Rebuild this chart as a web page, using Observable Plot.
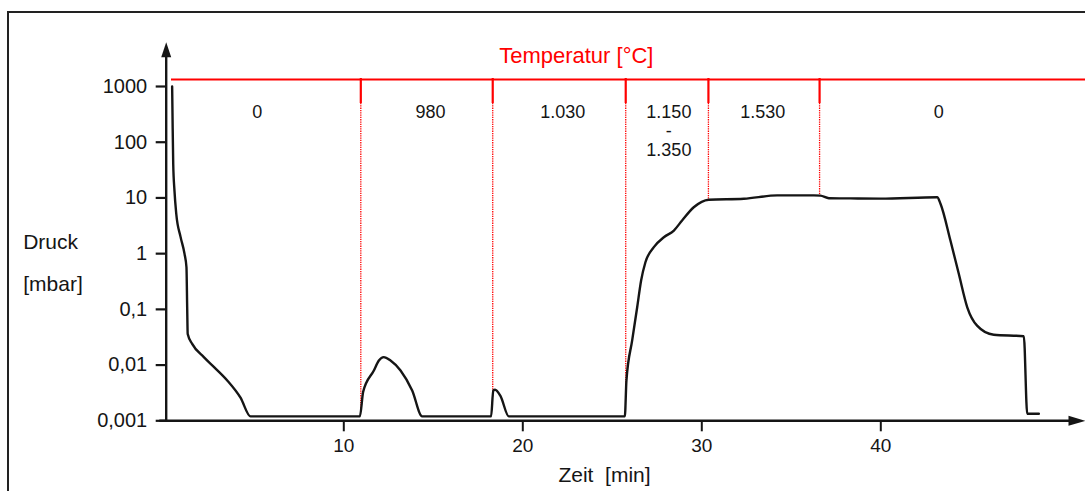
<!DOCTYPE html>
<html>
<head>
<meta charset="utf-8">
<script src="https://cdn.jsdelivr.net/npm/d3@7"></script>
<script src="https://cdn.jsdelivr.net/npm/@observablehq/plot@0.6"></script>
<style>
  html, body { margin: 0; padding: 0; background: #fff; overflow: hidden; }
  #wrap { position: relative; width: 1085px; height: 491px; }
  #frame { position: absolute; left: 7px; top: 11px; right: -4px; bottom: -4px;
           border-left: 2px solid #222; border-top: 2px solid #222; pointer-events: none; }
  svg text { white-space: pre; }
</style>
</head>
<body>
<div id="wrap"><div id="frame"></div></div>
<script>
// ---- data ----
const time = [0.41, 0.43, 0.47, 0.54, 0.64, 0.88, 1.10, 1.21, 1.25, 1.28, 1.53, 2.18, 2.74, 3.49, 4.23, 4.79,
  10.90, 11.08, 11.68, 11.96, 12.23, 12.61, 13.17, 13.82, 14.38,
  18.23, 18.35, 18.45, 18.75, 19.22,
  25.70, 25.79, 26.11, 26.39, 26.61, 26.85, 27.32, 27.88, 28.44, 28.90, 29.55, 30.39,
  32.35, 34.21, 36.26, 36.63, 37.10, 38.30, 39.98, 43.15,
  43.34, 43.89, 44.36, 44.83, 45.38, 46.31, 47.99, 48.18, 48.83];
const pressure = [1000, 320, 41, 13.5, 5.2, 2.0, 1.0, 0.57, 0.11, 0.036, 0.024, 0.0139, 0.0093, 0.0053, 0.0026, 0.0012,
  0.0012, 0.0033, 0.008, 0.0121, 0.0139, 0.0121, 0.008, 0.0035, 0.0012,
  0.0012, 0.0035, 0.0036, 0.0028, 0.0012,
  0.0012, 0.0053, 0.0277, 0.109, 0.33, 0.70, 1.31, 1.97, 2.6, 3.94, 6.8, 9.3,
  9.66, 11.1, 11.1, 11.0, 9.9, 9.8, 9.7, 10.3,
  7.8, 1.72, 0.43, 0.109, 0.051, 0.035, 0.033, 0.00134, 0.00134];

const tempBoundaries = [10.95, 18.32, 25.75, 30.37, 36.58];   // min
const tempLabels = ["0", "980", "1.030", "1.150\n-\n1.350", "1.530", "0"];
const tempLabelX = [5.16, 14.84, 22.23, 28.16, 33.40, 43.24];  // min

const xTicks = [10, 20, 30, 40];
const yTicks = [1000, 100, 10, 1, 0.1, 0.01, 0.001];
const yTickLabels = ["1000", "100", "10", "1", "0,1", "0,01", "0,001"];

// ---- layout ----
const W = 1085, H = 491;
const mL = 164.3, mR = 0, mT = 86, mB = 70.7;
const xDomain = [0, (W - mL) / 17.9];
const yDomain = [0.001, 1000];
const xs = Plot.scale({x: {domain: xDomain, range: [mL, W - mR]}});
const ys = Plot.scale({y: {type: "log", domain: yDomain, range: [H - mB, mT]}});
const X = px => xs.invert(px), Y = py => ys.invert(py);

const fmt = new Map(yTicks.map((t, i) => [t, yTickLabels[i]]));
const rows = time.map((t, i) => ({t, p: pressure[i]}));
function pAt(t) {
  for (let i = 0; i < time.length - 1; i++) {
    if (time[i] <= t && t <= time[i + 1]) {
      const f = (t - time[i]) / (time[i + 1] - time[i]);
      return Math.pow(10, Math.log10(pressure[i]) * (1 - f) + Math.log10(pressure[i + 1]) * f);
    }
  }
  return pressure[pressure.length - 1];
}

const upArrow = {draw(c) { c.moveTo(0, -15); c.lineTo(5, 0); c.lineTo(-5, 0); c.closePath(); }};
const rightArrow = {draw(c) { c.moveTo(17, 0); c.lineTo(0, -5); c.lineTo(0, 5); c.closePath(); }};
const ink = "#151515";

const chart = Plot.plot({
  width: W, height: H,
  marginLeft: mL, marginRight: mR, marginTop: mT, marginBottom: mB,
  style: {fontFamily: "'Liberation Sans', Arial, sans-serif", color: ink, background: "transparent", overflow: "visible"},
  x: {domain: xDomain},
  y: {type: "log", domain: yDomain},
  marks: [
    // temperature band
    Plot.ruleY([Y(79)], {x1: X(171), x2: X(W), stroke: "#ff0000", strokeWidth: 2}),
    Plot.ruleX(tempBoundaries, {x: d => d, y1: Y(78), y2: Y(103), stroke: "#ff0000", strokeWidth: 2.2}),
    Plot.ruleX(tempBoundaries, {x: d => d, y1: Y(103), y2: d => pAt(d), stroke: "#ff0000", strokeWidth: 1.3, strokeDasharray: "1.3,1"}),
    Plot.text(["Temperatur [°C]"], {x: X(575.8), y: Y(55.3), fill: "#ff0000", fontSize: 22}),
    Plot.text(tempLabels, {x: (d, i) => tempLabelX[i], y: Y(104.5), text: d => d, lineAnchor: "top",
      lineHeight: 1.05, fontSize: 18, fill: ink}),
    // axes
    Plot.axisY({ticks: yTicks, tickFormat: d => fmt.get(d), tickSize: 10, tickPadding: 9,
      strokeWidth: 2.2, fontSize: 20, label: null, dx: 1.4}),
    Plot.axisX({ticks: xTicks, tickSize: 11, tickPadding: 7, strokeWidth: 2, fontSize: 19, label: null}),
    Plot.ruleX([0], {y1: 0.001, y2: Y(56), stroke: ink, strokeWidth: 2.4, dx: 1.4}),
    Plot.dot([0], {x: 0, y: Y(56.7), symbol: upArrow, fill: ink, stroke: "none", r: 5, dx: 1.4}),
    Plot.ruleY([0.001], {x1: X(159.3), x2: X(1069), stroke: ink, strokeWidth: 2.4}),
    Plot.dot([0], {x: X(1068), y: 0.001, symbol: rightArrow, fill: ink, stroke: "none", r: 5}),
    Plot.text(["Zeit  [min]"], {x: X(604), y: Y(475), fontSize: 21, fill: ink}),
    Plot.text(["Druck"], {x: X(22.7), y: Y(241.6), textAnchor: "start", fontSize: 21, fill: ink}),
    Plot.text(["[mbar]"], {x: X(22.7), y: Y(284), textAnchor: "start", fontSize: 21, fill: ink}),
    // pressure curve
    Plot.line(rows, {x: "t", y: "p", stroke: ink, strokeWidth: 2.4, curve: "monotone-x"})
  ]
});
document.getElementById("wrap").prepend(chart);
</script>
</body>
</html>
